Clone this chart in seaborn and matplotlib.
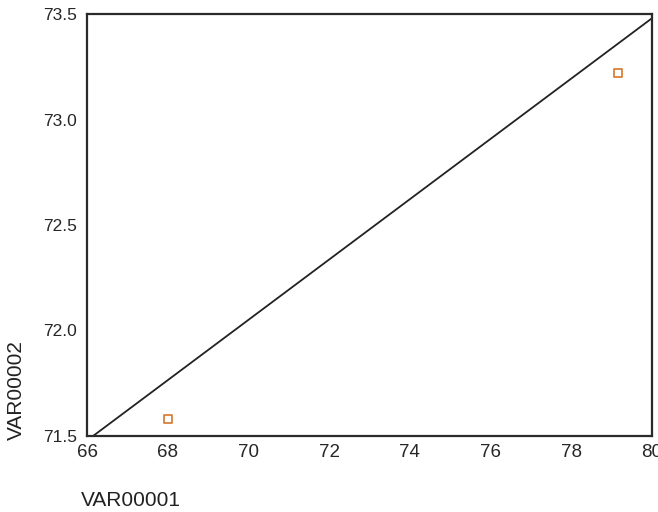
import matplotlib
matplotlib.use("Agg")
import matplotlib.pyplot as plt
import seaborn as sns
import pandas as pd

# data
var1 = [68.0, 79.15]
var2 = [71.58, 73.22]
ref_x = [66.15, 80.0]
ref_y = [71.5, 73.48]
xticks = [66, 68, 70, 72, 74, 76, 78, 80]
yticks = [71.5, 72.0, 72.5, 73.0, 73.5]
ytick_labels = ["71.5", "72.0", "72.5", "73.0", "73.5"]

sns.set_style("white")
plt.rcParams['font.family'] = ['Liberation Sans', 'DejaVu Sans']

fig = plt.figure(figsize=(6.58, 5.12), dpi=100)
ax = fig.add_axes([87/658, 1-436/512, (652-87)/658, (436-14)/512])

df = pd.DataFrame({"VAR00001": var1, "VAR00002": var2})
ref = pd.DataFrame({"x": ref_x, "y": ref_y})
sns.lineplot(data=ref, x="x", y="y", ax=ax, color="#222222", linewidth=1.3)
sns.scatterplot(data=df, x="VAR00001", y="VAR00002", ax=ax, marker="s", s=30,
                facecolor="none", edgecolor="#d9803a", linewidth=1.3)

ax.set_xlim(66, 80)
ax.set_ylim(71.5, 73.5)
ax.set_xticks(xticks)
ax.set_xticklabels([str(t) for t in xticks])
ax.set_yticks(yticks)
ax.set_yticklabels(ytick_labels)
ax.tick_params(axis="x", labelsize=13.5, length=3, width=3, color="#222222", pad=3, direction="out")
ax.tick_params(axis="y", labelsize=12.5, length=3, width=3, color="#222222", pad=4, direction="out")
ax.set_xlabel("")
ax.set_ylabel("")
for s in ["left", "bottom", "top", "right"]:
    ax.spines[s].set_linewidth(1.6)
    ax.spines[s].set_color("#2a2a2a")

fig.text(131/658, 1-500/512, "VAR00001", fontsize=15, ha="center", va="center", color="#222222")
fig.text(16/658, 1-390/512, "VAR00002", fontsize=15, ha="center", va="center", rotation=90, color="#222222")

fig.savefig("out.png", dpi=100)
